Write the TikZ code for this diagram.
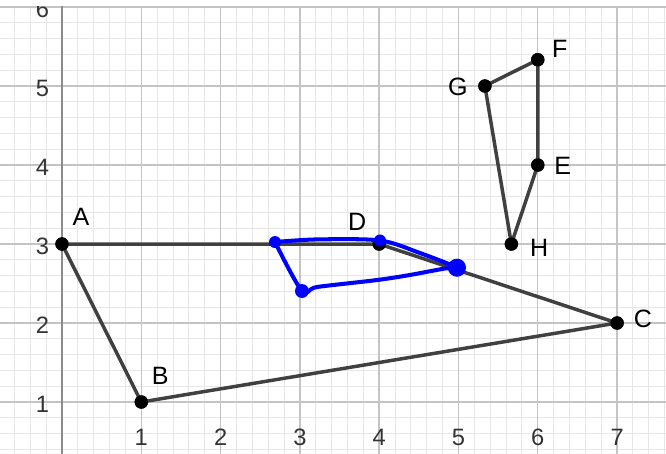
\documentclass[tikz,border=0pt]{standalone}
\usepackage{fontspec}
\setmainfont{Liberation Sans}
\usetikzlibrary{calc}
\definecolor{segc}{HTML}{404040}
\definecolor{minorc}{HTML}{E6E6E6}
\definecolor{majorc}{HTML}{C4C4C4}
\definecolor{axisc}{HTML}{8C8C8C}
\definecolor{pen}{HTML}{0000FF}

\begin{document}
\begin{tikzpicture}[x=2cm, y=1.9924cm, line join=round, line cap=round,
  pt/.style={circle, fill=black, inner sep=0pt, minimum size=9.6pt},
  bpt/.style={circle, fill=pen, inner sep=0pt, minimum size=#1},
  lbl/.style={font=\fontsize{18}{20}\selectfont, inner sep=0pt},
  seg/.style={draw=segc, line width=2.5pt},
  ticklbl/.style={font=\fontsize{17}{19}\selectfont, text=black!80, inner sep=0pt}]
  \useasboundingbox (-0.782,0.342) rectangle (7.617,6.089);
  \clip (-0.782,0.342) rectangle (7.617,6.089);
  % Quadrillage
  \draw[minorc, line width=0.7pt] (-1,0) grid[step=0.2] (8,7);
  \draw[majorc, line width=1pt] (-1,0) grid[step=1] (8,7);
  \draw[axisc, line width=1.4pt] (0,0) -- (0,7);
  % Graduations
  \foreach \i in {1,...,7}
    \node[ticklbl] (tx\i) at (\i,0.557) {\i};
  \foreach \j in {1,...,6}
    \node[ticklbl, anchor=east] (ty\j) at (-0.16,\j-0.025) {\j};
  % Bande blanche en haut
  \fill[white] (-1,6.01) rectangle (8,7);
  % Points
  \node[pt] (A) at (0,3) {};
  \node[pt] (B) at (1,1) {};
  \node[pt] (C) at (7,2) {};
  \node[pt] (D) at (4,3) {};
  \node[pt] (E) at (6,4) {};
  \node[pt] (F) at (6,5.333) {};
  \node[pt] (G) at (5.333,5) {};
  \node[pt] (H) at (5.667,3) {};
  % Segments
  \draw[seg] (A.center) -- (B.center) -- (C.center) -- (D.center) -- (A.center);
  \draw[seg] (G.center) -- (F.center) -- (E.center) -- (H.center) -- (G.center);
  \foreach \p in {A,B,C,D,E,F,G,H}
    \fill (\p) circle (4.8pt);
  % Noms des points
  \node[lbl, xshift=13.6pt, yshift=19.4pt] (lA) at (A) {A};
  \node[lbl, xshift=13.6pt, yshift=18.6pt] (lB) at (B) {B};
  \node[lbl, xshift=18.6pt, yshift=2.9pt] (lC) at (C) {C};
  \node[lbl, xshift=-15.8pt, yshift=15.8pt] (lD) at (D) {D};
  \node[lbl, xshift=17.9pt, yshift=-0.7pt] (lE) at (E) {E};
  \node[lbl, xshift=15.8pt, yshift=7.9pt] (lF) at (F) {F};
  \node[lbl, xshift=-19.4pt, yshift=-0.7pt] (lG) at (G) {G};
  \node[lbl, xshift=20pt, yshift=-2.9pt] (lH) at (H) {H};
  % Trace a main levee (bleu)
  \coordinate (p1) at (2.686,3.025);
  \coordinate (p2) at (4.010,3.045);
  \coordinate (p3) at (4.981,2.700);
  \coordinate (p4) at (3.026,2.405);
  \draw[pen, line width=2.9pt] plot[smooth, tension=0.5] coordinates {
    (p1) (3.216,3.058) (p2) (4.514,2.886) (p3) (4.830,2.690)
    (4.388,2.608) (3.972,2.544) (3.216,2.456) (p4) (p1)};
  \node[bpt=8.6pt] (q1) at (p1) {};
  \node[bpt=8.6pt] (q2) at (p2) {};
  \node[bpt=13pt] (q3) at (p3) {};
  \node[bpt=10pt] (q4) at (p4) {};
\end{tikzpicture}
\end{document}
